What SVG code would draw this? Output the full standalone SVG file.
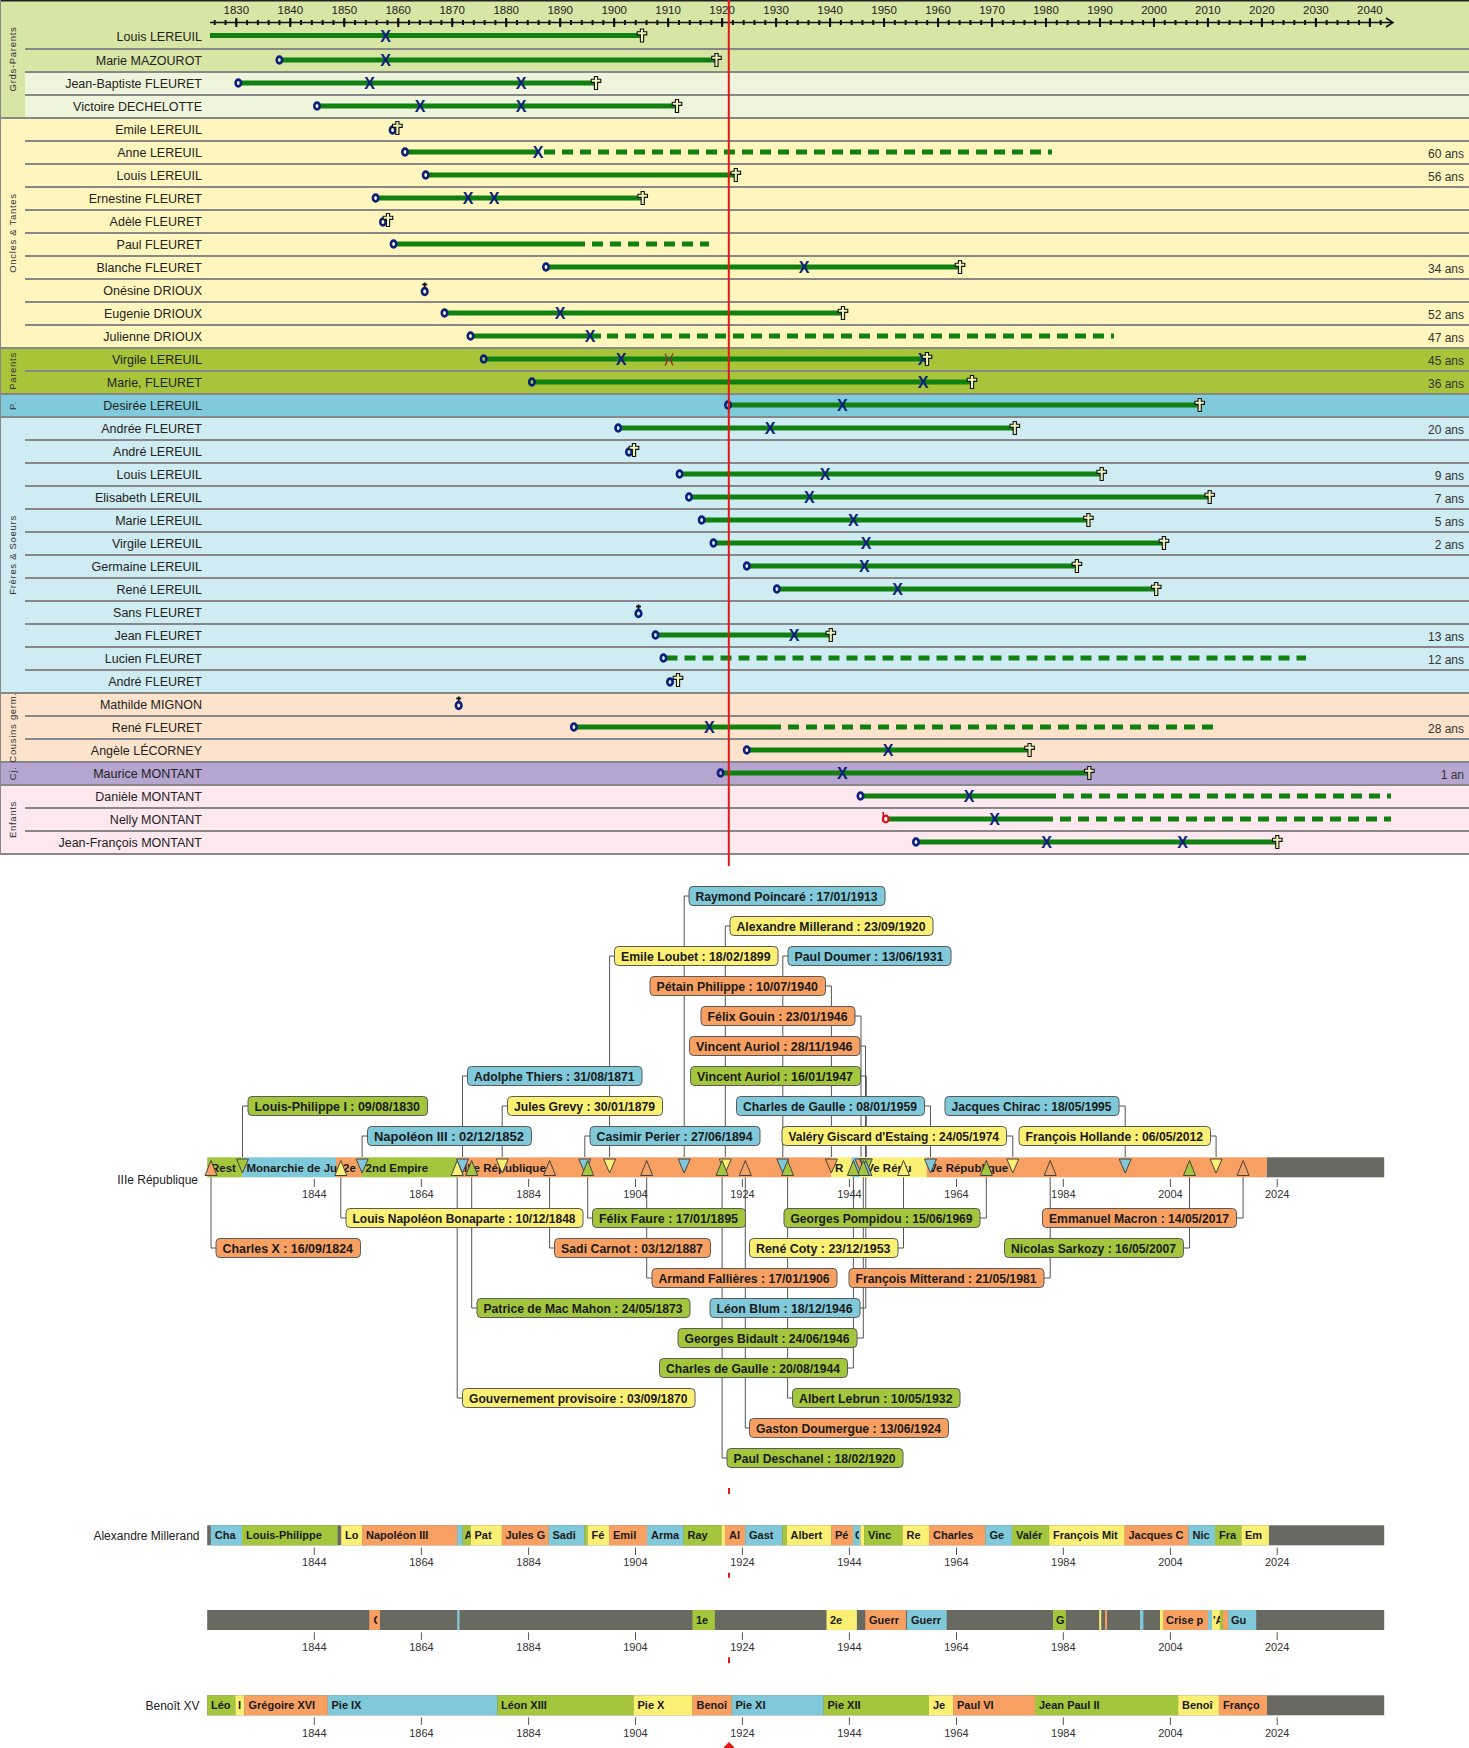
<svg xmlns="http://www.w3.org/2000/svg" width="1469" height="1748" viewBox="0 0 1469 1748">
<style>
.nm{font:12.5px "Liberation Sans",Arial,sans-serif;fill:#222;text-anchor:end}
.ag{font:12px "Liberation Sans",Arial,sans-serif;fill:#333;text-anchor:end}
.cat{font:9.5px "Liberation Sans",Arial,sans-serif;fill:#333;letter-spacing:0.7px;text-anchor:middle}
.yr{font:11.5px "Liberation Sans",Arial,sans-serif;fill:#222;text-anchor:middle}
.x{font:bold 16px "Liberation Sans",Arial,sans-serif;fill:#0c1f7a;text-anchor:middle}
.b{stroke:#108010;stroke-width:5;fill:none}
.d{stroke:#108010;stroke-width:5;fill:none;stroke-dasharray:11 7}
.sep{stroke:#888;stroke-width:2;fill:none}
.cb rect{stroke:#5a5a5a;stroke-width:1}
.cb text{font:bold 12px "Liberation Sans",Arial,sans-serif;fill:#1a1a1a}
.ln{stroke:#555;stroke-width:1;fill:none}
.tk{stroke:#555;stroke-width:1}
.ty{font:11px "Liberation Sans",Arial,sans-serif;fill:#333;text-anchor:middle}
.sl{font:bold 11.5px "Liberation Sans",Arial,sans-serif;fill:#1a1a1a}
.bl{font:bold 11px "Liberation Sans",Arial,sans-serif;fill:#1a1a1a}
.lb{font:12px "Liberation Sans",Arial,sans-serif;fill:#222;text-anchor:end}
.cB{fill:#80c9da}.cY{fill:#fbef74}.cO{fill:#f8a062}.cG{fill:#a3c63c}.cK{fill:#686a62}
.tri{stroke:#444;stroke-width:1}
.red{stroke:#e01818;stroke-width:2}
</style>
<defs>
<polygon id="cr" points="-1.6,-6.5 1.6,-6.5 1.6,-3.8 4.8,-3.8 4.8,-0.6 1.6,-0.6 1.6,6.5 -1.6,6.5 -1.6,-0.6 -4.8,-0.6 -4.8,-3.8 -1.6,-3.8" fill="#eef3b8" stroke="#111" stroke-width="1.1"/>
<ellipse id="bo" cx="0" cy="0" rx="2.7" ry="3.4" fill="none" stroke="#0c1f7a" stroke-width="2.6"/>
<g id="sb"><line x1="0" y1="-7.5" x2="0" y2="-1.5" stroke="#111" stroke-width="1.8"/><line x1="-2.5" y1="-5.5" x2="2.5" y2="-5.5" stroke="#111" stroke-width="1.8"/><ellipse cx="0" cy="1.5" rx="2.8" ry="3.4" fill="none" stroke="#0c1f7a" stroke-width="2.6"/></g>
<g id="nb"><ellipse cx="0" cy="0" rx="2.8" ry="3.4" fill="none" stroke="#d21414" stroke-width="2.2"/><line x1="-2.6" y1="-7" x2="-2.6" y2="3" stroke="#d21414" stroke-width="1.5"/></g>
<path id="mc" d="M-4,-6 Q0,0 -4,6 M4,-6 Q0,0 4,6" fill="none" stroke="#9a2a2a" stroke-width="1.3"/>
<clipPath id="k1"><rect x="462.6" y="1525" width="8" height="21"/></clipPath>
<clipPath id="k2"><rect x="853" y="1525" width="6" height="21"/></clipPath>
<clipPath id="k3"><rect x="369.3" y="1610" width="8" height="20"/></clipPath>
<clipPath id="k4"><rect x="1212" y="1610" width="7.9" height="20"/></clipPath>
</defs>
<rect x="0" y="0" width="1469" height="1748" fill="#fff"/>

<g id="bands">
<rect x="0" y="0" width="1469" height="72" fill="#d7e5a5"/>
<rect x="25" y="72" width="1444" height="46" fill="#eff4dc"/>
<rect x="0" y="72" width="25" height="46" fill="#d7e5a5"/>
<rect x="0" y="118" width="1469" height="230" fill="#fff6bd"/>
<rect x="0" y="348" width="1469" height="46" fill="#a8c53a"/>
<rect x="0" y="394" width="1469" height="23" fill="#80cbdb"/>
<rect x="0" y="417" width="1469" height="276" fill="#cfecf2"/>
<rect x="0" y="693" width="1469" height="69" fill="#fee3cc"/>
<rect x="0" y="762" width="1469" height="23" fill="#b5a5d0"/>
<rect x="0" y="785" width="1469" height="69" fill="#fde8f0"/>
<path class="sep" d="M25,49H1469M25,72H1469M25,95H1469M25,141H1469M25,164H1469M25,187H1469M25,210H1469M25,233H1469M25,256H1469M25,279H1469M25,302H1469M25,325H1469M25,371H1469M25,440H1469M25,463H1469M25,486H1469M25,509H1469M25,532H1469M25,555H1469M25,578H1469M25,601H1469M25,624H1469M25,647H1469M25,670H1469M25,716H1469M25,739H1469M25,808H1469M25,831H1469"/>
<path class="sep" d="M0,118H1469M0,348H1469M0,394H1469M0,417H1469M0,693H1469M0,762H1469M0,785H1469M0,854H1469"/>
<line x1="0" y1="0.75" x2="1469" y2="0.75" stroke="#222" stroke-width="1.5"/>
<line x1="0.5" y1="0" x2="0.5" y2="854" stroke="#888" stroke-width="1"/>
</g>

<g id="categories">
<text class="cat" transform="translate(15.5,59) rotate(-90)">Grds-Parents</text>
<text class="cat" transform="translate(15.5,233) rotate(-90)">Oncles &amp; Tantes</text>
<text class="cat" transform="translate(15.5,371) rotate(-90)">Parents</text>
<text class="cat" transform="translate(15.5,405.5) rotate(-90)">P.</text>
<text class="cat" transform="translate(15.5,555) rotate(-90)">Frères &amp; Soeurs</text>
<text class="cat" transform="translate(15.5,727.5) rotate(-90)">Cousins germ.</text>
<text class="cat" transform="translate(15.5,773.5) rotate(-90)">Cj.</text>
<text class="cat" transform="translate(15.5,819.5) rotate(-90)">Enfants</text>
</g>

<g id="axis">
<line x1="210" y1="22.5" x2="1393" y2="22.5" stroke="#111" stroke-width="1.5"/>
<polyline points="1386,18 1393,22.5 1386,27" fill="none" stroke="#111" stroke-width="1.5"/>
<line x1="213.7" y1="22.5" x2="1384" y2="22.5" stroke="#111" stroke-width="5" stroke-dasharray="2 8.796"/>
<line x1="235.3" y1="22.5" x2="1372" y2="22.5" stroke="#111" stroke-width="9" stroke-dasharray="2 51.98"/>
<text class="yr" x="236.3" y="14">1830</text><text class="yr" x="290.3" y="14">1840</text><text class="yr" x="344.3" y="14">1850</text><text class="yr" x="398.2" y="14">1860</text><text class="yr" x="452.2" y="14">1870</text><text class="yr" x="506.2" y="14">1880</text><text class="yr" x="560.2" y="14">1890</text><text class="yr" x="614.2" y="14">1900</text><text class="yr" x="668.1" y="14">1910</text><text class="yr" x="722.1" y="14">1920</text><text class="yr" x="776.1" y="14">1930</text><text class="yr" x="830.1" y="14">1940</text><text class="yr" x="884.1" y="14">1950</text><text class="yr" x="938" y="14">1960</text><text class="yr" x="992" y="14">1970</text><text class="yr" x="1046" y="14">1980</text><text class="yr" x="1100" y="14">1990</text><text class="yr" x="1154" y="14">2000</text><text class="yr" x="1207.9" y="14">2010</text><text class="yr" x="1261.9" y="14">2020</text><text class="yr" x="1315.9" y="14">2030</text><text class="yr" x="1369.9" y="14">2040</text>
</g>

<g id="row01"><text class="nm" x="202" y="40.5">Louis LEREUIL</text><line class="b" x1="210" y1="35.5" x2="641" y2="35.5"/><text class="x" x="385.6" y="41.5">X</text><use href="#cr" x="642" y="35.5"/></g>
<g id="row02"><text class="nm" x="202" y="65">Marie MAZOUROT</text><line class="b" x1="282.4" y1="60" x2="715.5" y2="60"/><use href="#bo" x="279.4" y="60"/><text class="x" x="385.6" y="66">X</text><use href="#cr" x="716.5" y="60"/></g>
<g id="row03"><text class="nm" x="202" y="88">Jean-Baptiste FLEURET</text><line class="b" x1="241.3" y1="83" x2="595" y2="83"/><use href="#bo" x="238.3" y="83"/><text class="x" x="369.5" y="89">X</text><text class="x" x="521" y="89">X</text><use href="#cr" x="596" y="83"/></g>
<g id="row04"><text class="nm" x="202" y="111">Victoire DECHELOTTE</text><line class="b" x1="320" y1="106" x2="676" y2="106"/><use href="#bo" x="317" y="106"/><text class="x" x="420" y="112">X</text><text class="x" x="521" y="112">X</text><use href="#cr" x="677" y="106"/></g>
<g id="row05"><text class="nm" x="202" y="134">Emile LEREUIL</text><use href="#bo" x="392.6" y="130"/><use href="#cr" x="397.4" y="128"/></g>
<g id="row06"><text class="nm" x="202" y="157">Anne LEREUIL</text><line class="b" x1="408" y1="152" x2="538" y2="152"/><line class="d" x1="544" y1="152" x2="1052" y2="152"/><use href="#bo" x="405" y="152"/><text class="x" x="538" y="158">X</text><text class="ag" x="1464" y="157.5">60 ans</text></g>
<g id="row07"><text class="nm" x="202" y="180">Louis LEREUIL</text><line class="b" x1="428.7" y1="175" x2="735" y2="175"/><use href="#bo" x="425.7" y="175"/><use href="#cr" x="735.8" y="175"/><text class="ag" x="1464" y="180.5">56 ans</text></g>
<g id="row08"><text class="nm" x="202" y="203">Ernestine FLEURET</text><line class="b" x1="378.6" y1="198" x2="642" y2="198"/><use href="#bo" x="375.6" y="198"/><text class="x" x="468" y="204">X</text><text class="x" x="494" y="204">X</text><use href="#cr" x="642.7" y="198"/></g>
<g id="row09"><text class="nm" x="202" y="226">Adèle FLEURET</text><use href="#bo" x="383" y="222"/><use href="#cr" x="388" y="220"/></g>
<g id="row10"><text class="nm" x="202" y="249">Paul FLEURET</text><line class="b" x1="396.6" y1="244" x2="585" y2="244"/><line class="d" x1="592" y1="244" x2="709" y2="244"/><use href="#bo" x="393.6" y="244"/></g>
<g id="row11"><text class="nm" x="202" y="272">Blanche FLEURET</text><line class="b" x1="549" y1="267" x2="959" y2="267"/><use href="#bo" x="546" y="267"/><text class="x" x="804" y="273">X</text><use href="#cr" x="960" y="267"/><text class="ag" x="1464" y="272.5">34 ans</text></g>
<g id="row12"><text class="nm" x="202" y="295">Onésine DRIOUX</text><use href="#sb" x="424.7" y="290"/></g>
<g id="row13"><text class="nm" x="202" y="318">Eugenie DRIOUX</text><line class="b" x1="447.5" y1="313" x2="842" y2="313"/><use href="#bo" x="444.5" y="313"/><text class="x" x="560" y="319">X</text><use href="#cr" x="843" y="313"/><text class="ag" x="1464" y="318.5">52 ans</text></g>
<g id="row14"><text class="nm" x="202" y="341">Julienne DRIOUX</text><line class="b" x1="473.5" y1="336" x2="601" y2="336"/><line class="d" x1="607" y1="336" x2="1114" y2="336"/><use href="#bo" x="470.5" y="336"/><text class="x" x="590" y="342">X</text><text class="ag" x="1464" y="341.5">47 ans</text></g>
<g id="row15"><text class="nm" x="202" y="364">Virgile LEREUIL</text><line class="b" x1="486.7" y1="359" x2="926" y2="359"/><use href="#bo" x="483.7" y="359"/><text class="x" x="621" y="365">X</text><use href="#mc" x="669" y="359.5"/><text class="x" x="923" y="365">X</text><use href="#cr" x="927" y="359"/><text class="ag" x="1464" y="364.5">45 ans</text></g>
<g id="row16"><text class="nm" x="202" y="387">Marie, FLEURET</text><line class="b" x1="534.9" y1="382" x2="971" y2="382"/><use href="#bo" x="531.9" y="382"/><text class="x" x="923" y="388">X</text><use href="#cr" x="972" y="382"/><text class="ag" x="1464" y="387.5">36 ans</text></g>
<g id="row17"><text class="nm" x="202" y="410">Desirée LEREUIL</text><line class="b" x1="731" y1="405" x2="1199" y2="405"/><use href="#bo" x="728" y="405"/><text class="x" x="842.3" y="411">X</text><use href="#cr" x="1199.7" y="405"/></g>
<g id="row18"><text class="nm" x="202" y="433">Andrée FLEURET</text><line class="b" x1="621.2" y1="428" x2="1014" y2="428"/><use href="#bo" x="618.2" y="428"/><text class="x" x="770" y="434">X</text><use href="#cr" x="1014.8" y="428"/><text class="ag" x="1464" y="433.5">20 ans</text></g>
<g id="row19"><text class="nm" x="202" y="456">André LEREUIL</text><use href="#bo" x="629" y="452"/><use href="#cr" x="634" y="450"/></g>
<g id="row20"><text class="nm" x="202" y="479">Louis LEREUIL</text><line class="b" x1="682.6" y1="474" x2="1101" y2="474"/><use href="#bo" x="679.6" y="474"/><text class="x" x="825" y="480">X</text><use href="#cr" x="1101.7" y="474"/><text class="ag" x="1464" y="479.5">9 ans</text></g>
<g id="row21"><text class="nm" x="202" y="502">Elisabeth LEREUIL</text><line class="b" x1="692" y1="497" x2="1209" y2="497"/><use href="#bo" x="689" y="497"/><text class="x" x="809.3" y="503">X</text><use href="#cr" x="1209.7" y="497"/><text class="ag" x="1464" y="502.5">7 ans</text></g>
<g id="row22"><text class="nm" x="202" y="525">Marie LEREUIL</text><line class="b" x1="704.7" y1="520" x2="1088" y2="520"/><use href="#bo" x="701.7" y="520"/><text class="x" x="853.3" y="526">X</text><use href="#cr" x="1088.4" y="520"/><text class="ag" x="1464" y="525.5">5 ans</text></g>
<g id="row23"><text class="nm" x="202" y="548">Virgile LEREUIL</text><line class="b" x1="716.5" y1="543" x2="1163" y2="543"/><use href="#bo" x="713.5" y="543"/><text class="x" x="866.2" y="549">X</text><use href="#cr" x="1163.9" y="543"/><text class="ag" x="1464" y="548.5">2 ans</text></g>
<g id="row24"><text class="nm" x="202" y="571">Germaine LEREUIL</text><line class="b" x1="749.8" y1="566" x2="1076" y2="566"/><use href="#bo" x="746.8" y="566"/><text class="x" x="864.3" y="572">X</text><use href="#cr" x="1076.9" y="566"/></g>
<g id="row25"><text class="nm" x="202" y="594">René LEREUIL</text><line class="b" x1="779.9" y1="589" x2="1156" y2="589"/><use href="#bo" x="776.9" y="589"/><text class="x" x="897.7" y="595">X</text><use href="#cr" x="1156.2" y="589"/></g>
<g id="row26"><text class="nm" x="202" y="617">Sans FLEURET</text><use href="#sb" x="638.5" y="612"/></g>
<g id="row27"><text class="nm" x="202" y="640">Jean FLEURET</text><line class="b" x1="658.5" y1="635" x2="830" y2="635"/><use href="#bo" x="655.5" y="635"/><text class="x" x="794" y="641">X</text><use href="#cr" x="830.8" y="635"/><text class="ag" x="1464" y="640.5">13 ans</text></g>
<g id="row28"><text class="nm" x="202" y="663">Lucien FLEURET</text><line class="d" x1="666.5" y1="658" x2="1306" y2="658"/><use href="#bo" x="663.5" y="658"/><text class="ag" x="1464" y="663.5">12 ans</text></g>
<g id="row29"><text class="nm" x="202" y="686">André FLEURET</text><use href="#bo" x="670" y="682"/><use href="#cr" x="678" y="680"/></g>
<g id="row30"><text class="nm" x="202" y="709">Mathilde MIGNON</text><use href="#sb" x="458.7" y="704"/></g>
<g id="row31"><text class="nm" x="202" y="732">René FLEURET</text><line class="b" x1="576.9" y1="727" x2="781" y2="727"/><line class="d" x1="788" y1="727" x2="1213.5" y2="727"/><use href="#bo" x="573.9" y="727"/><text class="x" x="709.3" y="733">X</text><text class="ag" x="1464" y="732.5">28 ans</text></g>
<g id="row32"><text class="nm" x="202" y="755">Angèle LÉCORNEY</text><line class="b" x1="749.8" y1="750" x2="1029" y2="750"/><use href="#bo" x="746.8" y="750"/><text class="x" x="888.2" y="756">X</text><use href="#cr" x="1029.6" y="750"/></g>
<g id="row33"><text class="nm" x="202" y="778">Maurice MONTANT</text><line class="b" x1="723.6" y1="773" x2="1089" y2="773"/><use href="#bo" x="720.6" y="773"/><text class="x" x="842.3" y="779">X</text><use href="#cr" x="1089.3" y="773"/><text class="ag" x="1464" y="778.5">1 an</text></g>
<g id="row34"><text class="nm" x="202" y="801">Danièle MONTANT</text><line class="b" x1="863.5" y1="796" x2="1056" y2="796"/><line class="d" x1="1063" y1="796" x2="1391" y2="796"/><use href="#bo" x="860.5" y="796"/><text class="x" x="969" y="802">X</text></g>
<g id="row35"><text class="nm" x="202" y="824">Nelly MONTANT</text><line class="b" x1="888.5" y1="819" x2="1053" y2="819"/><line class="d" x1="1060" y1="819" x2="1391" y2="819"/><use href="#nb" x="885.8" y="819"/><text class="x" x="994.7" y="825">X</text></g>
<g id="row36"><text class="nm" x="202" y="847">Jean-François MONTANT</text><line class="b" x1="919" y1="842" x2="1277" y2="842"/><use href="#bo" x="916" y="842"/><text class="x" x="1046.6" y="848">X</text><text class="x" x="1182.6" y="848">X</text><use href="#cr" x="1277.3" y="842"/></g>

<line id="today" class="red" x1="728.8" y1="0" x2="728.8" y2="866"/>

<g id="connectors">
<path class="ln" d="M689,896H684.2V1157M730,926H725.3V1157M614.5,956H609.6V1157M788,956H782.8V1157M825.5,986H831.4V1157M855,1016H861V1157M860,1046H865.5V1157M860.5,1076H866.3V1157M467.5,1076H462.5V1157M248,1106H242.5V1157M507.5,1106H502.2V1157M924.5,1106H930.5V1157M1119,1106H1125.2V1157M367.5,1136H362.1V1157M590,1136H584.8V1157M1006.5,1136H1012.8V1157M1210.5,1136H1216.1V1157"/>
<path class="ln" d="M340.8,1177V1218H346M587.7,1177V1218H592.5M986.3,1177V1218H980M1243.1,1177V1218H1236.5M211,1177V1248H216M549.6,1177V1248H554.5M903.5,1177V1248H898M1189.5,1177V1248H1183.5M646.7,1177V1278H652M1050.2,1177V1278H1044M471.7,1177V1308H477M865.8,1177V1308H860M863.3,1177V1338H857M853.4,1177V1368H847.5M457.2,1177V1398H462.5M787.6,1177V1398H792.5M745.3,1177V1428H749.5M722.1,1177V1458H727"/>
</g>

<g id="strip">
<text class="lb" x="198" y="1183.5">IIIe République</text>
<rect class="cG" x="207.2" y="1157.3" width="35.3" height="20"/>
<rect class="cB" x="242.5" y="1157.3" width="93.5" height="20"/>
<rect class="cO" x="336" y="1157.3" width="26.1" height="20"/>
<rect class="cG" x="362.1" y="1157.3" width="95.1" height="20"/>
<rect class="cO" x="457.2" y="1157.3" width="374.2" height="20"/>
<rect class="cY" x="831.4" y="1157.3" width="20.2" height="20"/>
<rect class="cB" x="851.6" y="1157.3" width="8" height="20"/>
<rect class="cY" x="859.6" y="1157.3" width="67" height="20"/>
<rect class="cO" x="926.6" y="1157.3" width="340.2" height="20"/>
<rect class="cK" x="1266.8" y="1157.3" width="117.4" height="20"/>
<text class="sl" x="211" y="1171.5">Rest</text>
<text class="sl" x="246.4" y="1171.5">Monarchie de Ju</text>
<text class="sl" x="343" y="1171.5">2e</text>
<text class="sl" x="365.6" y="1171.5">2nd Empire</text>
<text class="sl" x="464" y="1171.5">IIIe République</text>
<text class="sl" x="835" y="1171.5">R</text>
<text class="sl" x="863" y="1171.5">IVe Répu</text>
<text class="sl" x="929" y="1171.5">Ve République</text>
<g class="tri">
<polygon class="cB" points="678.2,1159 690.2,1159 684.2,1173"/>
<polygon class="cY" points="719.3,1159 731.3,1159 725.3,1173"/>
<polygon class="cY" points="603.6,1159 615.6,1159 609.6,1173"/>
<polygon class="cB" points="776.8,1159 788.8,1159 782.8,1173"/>
<polygon class="cO" points="825.4,1159 837.4,1159 831.4,1173"/>
<polygon class="cO" points="855,1159 867,1159 861,1173"/>
<polygon class="cO" points="859.5,1159 871.5,1159 865.5,1173"/>
<polygon class="cG" points="860.3,1159 872.3,1159 866.3,1173"/>
<polygon class="cB" points="456.5,1159 468.5,1159 462.5,1173"/>
<polygon class="cG" points="236.5,1159 248.5,1159 242.5,1173"/>
<polygon class="cY" points="496.2,1159 508.2,1159 502.2,1173"/>
<polygon class="cB" points="924.5,1159 936.5,1159 930.5,1173"/>
<polygon class="cB" points="1119.2,1159 1131.2,1159 1125.2,1173"/>
<polygon class="cB" points="356.1,1159 368.1,1159 362.1,1173"/>
<polygon class="cB" points="578.8,1159 590.8,1159 584.8,1173"/>
<polygon class="cY" points="1006.8,1159 1018.8,1159 1012.8,1173"/>
<polygon class="cY" points="1210.1,1159 1222.1,1159 1216.1,1173"/>
<polygon class="cY" points="334.8,1175.5 346.8,1175.5 340.8,1160.5"/>
<polygon class="cG" points="581.7,1175.5 593.7,1175.5 587.7,1160.5"/>
<polygon class="cG" points="980.3,1175.5 992.3,1175.5 986.3,1160.5"/>
<polygon class="cO" points="1237.1,1175.5 1249.1,1175.5 1243.1,1160.5"/>
<polygon class="cO" points="205,1175.5 217,1175.5 211,1160.5"/>
<polygon class="cO" points="543.6,1175.5 555.6,1175.5 549.6,1160.5"/>
<polygon class="cY" points="897.5,1175.5 909.5,1175.5 903.5,1160.5"/>
<polygon class="cG" points="1183.5,1175.5 1195.5,1175.5 1189.5,1160.5"/>
<polygon class="cO" points="640.7,1175.5 652.7,1175.5 646.7,1160.5"/>
<polygon class="cO" points="1044.2,1175.5 1056.2,1175.5 1050.2,1160.5"/>
<polygon class="cG" points="465.7,1175.5 477.7,1175.5 471.7,1160.5"/>
<polygon class="cB" points="859.8,1175.5 871.8,1175.5 865.8,1160.5"/>
<polygon class="cG" points="857.3,1175.5 869.3,1175.5 863.3,1160.5"/>
<polygon class="cG" points="847.4,1175.5 859.4,1175.5 853.4,1160.5"/>
<polygon class="cY" points="451.2,1175.5 463.2,1175.5 457.2,1160.5"/>
<polygon class="cG" points="781.6,1175.5 793.6,1175.5 787.6,1160.5"/>
<polygon class="cO" points="739.3,1175.5 751.3,1175.5 745.3,1160.5"/>
<polygon class="cG" points="716.1,1175.5 728.1,1175.5 722.1,1160.5"/>
</g>
<path class="tk" d="M314.3,1179V1187M421.4,1179V1187M528.6,1179V1187M635.5,1179V1187M742.4,1179V1187M849.4,1179V1187M956.5,1179V1187M1063.3,1179V1187M1170.4,1179V1187M1277.2,1179V1187"/>
<text class="ty" x="314.3" y="1197.5">1844</text><text class="ty" x="421.4" y="1197.5">1864</text><text class="ty" x="528.6" y="1197.5">1884</text><text class="ty" x="635.5" y="1197.5">1904</text><text class="ty" x="742.4" y="1197.5">1924</text><text class="ty" x="849.4" y="1197.5">1944</text><text class="ty" x="956.5" y="1197.5">1964</text><text class="ty" x="1063.3" y="1197.5">1984</text><text class="ty" x="1170.4" y="1197.5">2004</text><text class="ty" x="1277.2" y="1197.5">2024</text>
<line class="red" x1="729" y1="1488" x2="729" y2="1494"/>
</g>

<g id="n01" class="cb"><rect class="cB" x="689" y="886.5" width="196" height="19" rx="4"/><text x="695.5" y="900.5" textLength="182" lengthAdjust="spacingAndGlyphs">Raymond Poincaré : 17/01/1913</text></g>
<g id="n02" class="cb"><rect class="cY" x="730" y="916.5" width="203" height="19" rx="4"/><text x="736.5" y="930.5" textLength="189" lengthAdjust="spacingAndGlyphs">Alexandre Millerand : 23/09/1920</text></g>
<g id="n03" class="cb"><rect class="cY" x="614.5" y="946.5" width="163.5" height="19" rx="4"/><text x="621" y="960.5" textLength="149.5" lengthAdjust="spacingAndGlyphs">Emile Loubet : 18/02/1899</text></g>
<g id="n04" class="cb"><rect class="cB" x="788" y="946.5" width="163" height="19" rx="4"/><text x="794.5" y="960.5" textLength="149" lengthAdjust="spacingAndGlyphs">Paul Doumer : 13/06/1931</text></g>
<g id="n05" class="cb"><rect class="cO" x="650" y="976.5" width="175.5" height="19" rx="4"/><text x="656.5" y="990.5" textLength="161.5" lengthAdjust="spacingAndGlyphs">Pétain Philippe : 10/07/1940</text></g>
<g id="n06" class="cb"><rect class="cO" x="701" y="1006.5" width="154" height="19" rx="4"/><text x="707.5" y="1020.5" textLength="140" lengthAdjust="spacingAndGlyphs">Félix Gouin : 23/01/1946</text></g>
<g id="n07" class="cb"><rect class="cO" x="689.5" y="1036.5" width="170.5" height="19" rx="4"/><text x="696" y="1050.5" textLength="156.5" lengthAdjust="spacingAndGlyphs">Vincent Auriol : 28/11/1946</text></g>
<g id="n08" class="cb"><rect class="cG" x="690.5" y="1066.5" width="170" height="19" rx="4"/><text x="697" y="1080.5" textLength="156" lengthAdjust="spacingAndGlyphs">Vincent Auriol : 16/01/1947</text></g>
<g id="n09" class="cb"><rect class="cB" x="467.5" y="1066.5" width="174.5" height="19" rx="4"/><text x="474" y="1080.5" textLength="160.5" lengthAdjust="spacingAndGlyphs">Adolphe Thiers : 31/08/1871</text></g>
<g id="n10" class="cb"><rect class="cG" x="248" y="1096.5" width="179.5" height="19" rx="4"/><text x="254.5" y="1110.5" textLength="165.5" lengthAdjust="spacingAndGlyphs">Louis-Philippe I : 09/08/1830</text></g>
<g id="n11" class="cb"><rect class="cY" x="507.5" y="1096.5" width="155" height="19" rx="4"/><text x="514" y="1110.5" textLength="141" lengthAdjust="spacingAndGlyphs">Jules Grevy : 30/01/1879</text></g>
<g id="n12" class="cb"><rect class="cB" x="736.5" y="1096.5" width="188" height="19" rx="4"/><text x="743" y="1110.5" textLength="174" lengthAdjust="spacingAndGlyphs">Charles de Gaulle : 08/01/1959</text></g>
<g id="n13" class="cb"><rect class="cB" x="945" y="1096.5" width="174" height="19" rx="4"/><text x="951.5" y="1110.5" textLength="160" lengthAdjust="spacingAndGlyphs">Jacques Chirac : 18/05/1995</text></g>
<g id="n14" class="cb"><rect class="cB" x="367.5" y="1126.5" width="164" height="19" rx="4"/><text x="374" y="1140.5" textLength="150" lengthAdjust="spacingAndGlyphs">Napoléon III : 02/12/1852</text></g>
<g id="n15" class="cb"><rect class="cB" x="590" y="1126.5" width="170" height="19" rx="4"/><text x="596.5" y="1140.5" textLength="156" lengthAdjust="spacingAndGlyphs">Casimir Perier : 27/06/1894</text></g>
<g id="n16" class="cb"><rect class="cY" x="782" y="1126.5" width="224.5" height="19" rx="4"/><text x="788.5" y="1140.5" textLength="210.5" lengthAdjust="spacingAndGlyphs">Valéry Giscard d'Estaing : 24/05/1974</text></g>
<g id="n17" class="cb"><rect class="cY" x="1019" y="1126.5" width="191.5" height="19" rx="4"/><text x="1025.5" y="1140.5" textLength="177.5" lengthAdjust="spacingAndGlyphs">François Hollande : 06/05/2012</text></g>
<g id="n18" class="cb"><rect class="cY" x="346" y="1208.5" width="237" height="19" rx="4"/><text x="352.5" y="1222.5" textLength="223" lengthAdjust="spacingAndGlyphs">Louis Napoléon Bonaparte : 10/12/1848</text></g>
<g id="n19" class="cb"><rect class="cG" x="592.5" y="1208.5" width="153" height="19" rx="4"/><text x="599" y="1222.5" textLength="139" lengthAdjust="spacingAndGlyphs">Félix Faure : 17/01/1895</text></g>
<g id="n20" class="cb"><rect class="cG" x="784" y="1208.5" width="196" height="19" rx="4"/><text x="790.5" y="1222.5" textLength="182" lengthAdjust="spacingAndGlyphs">Georges Pompidou : 15/06/1969</text></g>
<g id="n21" class="cb"><rect class="cO" x="1042.5" y="1208.5" width="194" height="19" rx="4"/><text x="1049" y="1222.5" textLength="180" lengthAdjust="spacingAndGlyphs">Emmanuel Macron : 14/05/2017</text></g>
<g id="n22" class="cb"><rect class="cO" x="216" y="1238.5" width="144.5" height="19" rx="4"/><text x="222.5" y="1252.5" textLength="130.5" lengthAdjust="spacingAndGlyphs">Charles X : 16/09/1824</text></g>
<g id="n23" class="cb"><rect class="cO" x="554.5" y="1238.5" width="156" height="19" rx="4"/><text x="561" y="1252.5" textLength="142" lengthAdjust="spacingAndGlyphs">Sadi Carnot : 03/12/1887</text></g>
<g id="n24" class="cb"><rect class="cY" x="749.5" y="1238.5" width="148.5" height="19" rx="4"/><text x="756" y="1252.5" textLength="134.5" lengthAdjust="spacingAndGlyphs">René Coty : 23/12/1953</text></g>
<g id="n25" class="cb"><rect class="cG" x="1004.5" y="1238.5" width="179" height="19" rx="4"/><text x="1011" y="1252.5" textLength="165" lengthAdjust="spacingAndGlyphs">Nicolas Sarkozy : 16/05/2007</text></g>
<g id="n26" class="cb"><rect class="cO" x="652" y="1268.5" width="185" height="19" rx="4"/><text x="658.5" y="1282.5" textLength="171" lengthAdjust="spacingAndGlyphs">Armand Fallières : 17/01/1906</text></g>
<g id="n27" class="cb"><rect class="cO" x="849" y="1268.5" width="195" height="19" rx="4"/><text x="855.5" y="1282.5" textLength="181" lengthAdjust="spacingAndGlyphs">François Mitterand : 21/05/1981</text></g>
<g id="n28" class="cb"><rect class="cG" x="477" y="1298.5" width="213" height="19" rx="4"/><text x="483.5" y="1312.5" textLength="199" lengthAdjust="spacingAndGlyphs">Patrice de Mac Mahon : 24/05/1873</text></g>
<g id="n29" class="cb"><rect class="cB" x="710" y="1298.5" width="150" height="19" rx="4"/><text x="716.5" y="1312.5" textLength="136" lengthAdjust="spacingAndGlyphs">Léon Blum : 18/12/1946</text></g>
<g id="n30" class="cb"><rect class="cG" x="678" y="1328.5" width="179" height="19" rx="4"/><text x="684.5" y="1342.5" textLength="165" lengthAdjust="spacingAndGlyphs">Georges Bidault : 24/06/1946</text></g>
<g id="n31" class="cb"><rect class="cG" x="659.5" y="1358.5" width="188" height="19" rx="4"/><text x="666" y="1372.5" textLength="174" lengthAdjust="spacingAndGlyphs">Charles de Gaulle : 20/08/1944</text></g>
<g id="n32" class="cb"><rect class="cY" x="462.5" y="1388.5" width="232.5" height="19" rx="4"/><text x="469" y="1402.5" textLength="218.5" lengthAdjust="spacingAndGlyphs">Gouvernement provisoire : 03/09/1870</text></g>
<g id="n33" class="cb"><rect class="cG" x="792.5" y="1388.5" width="167.5" height="19" rx="4"/><text x="799" y="1402.5" textLength="153.5" lengthAdjust="spacingAndGlyphs">Albert Lebrun : 10/05/1932</text></g>
<g id="n34" class="cb"><rect class="cO" x="749.5" y="1418.5" width="199" height="19" rx="4"/><text x="756" y="1432.5" textLength="185" lengthAdjust="spacingAndGlyphs">Gaston Doumergue : 13/06/1924</text></g>
<g id="n35" class="cb"><rect class="cG" x="727" y="1448.5" width="176" height="19" rx="4"/><text x="733.5" y="1462.5" textLength="162" lengthAdjust="spacingAndGlyphs">Paul Deschanel : 18/02/1920</text></g>

<g id="bar-millerand">
<text class="lb" x="199.5" y="1539.5">Alexandre Millerand</text>
<rect class="cK" x="207.2" y="1525.3" width="1177" height="20"/>
<rect class="cB" x="210.8" y="1525.3" width="31.2" height="20"/>
<rect class="cG" x="242" y="1525.3" width="95.6" height="20"/>
<rect class="cY" x="341.2" y="1525.3" width="20.9" height="20"/>
<rect class="cO" x="362.1" y="1525.3" width="95.1" height="20"/>
<rect class="cB" x="457.2" y="1525.3" width="5.4" height="20"/>
<rect class="cG" x="462.6" y="1525.3" width="8" height="20"/>
<rect class="cY" x="470.6" y="1525.3" width="31.3" height="20"/>
<rect class="cO" x="501.9" y="1525.3" width="46.9" height="20"/>
<rect class="cB" x="548.8" y="1525.3" width="35.7" height="20"/>
<rect class="cG" x="584.5" y="1525.3" width="3.1" height="20"/>
<rect class="cY" x="587.6" y="1525.3" width="21.9" height="20"/>
<rect class="cO" x="609.5" y="1525.3" width="37.5" height="20"/>
<rect class="cB" x="647" y="1525.3" width="36.6" height="20"/>
<rect class="cG" x="683.6" y="1525.3" width="37.9" height="20"/>
<rect class="cY" x="721.5" y="1525.3" width="3.5" height="20"/>
<rect class="cO" x="725" y="1525.3" width="20.2" height="20"/>
<rect class="cB" x="745.2" y="1525.3" width="37.2" height="20"/>
<rect class="cG" x="782.4" y="1525.3" width="4.4" height="20"/>
<rect class="cY" x="786.8" y="1525.3" width="44.6" height="20"/>
<rect class="cO" x="831.4" y="1525.3" width="21.6" height="20"/>
<rect class="cB" x="853" y="1525.3" width="7.4" height="20"/>
<rect class="cY" x="860.4" y="1525.3" width="3.9" height="20"/>
<rect class="cG" x="864.3" y="1525.3" width="38.2" height="20"/>
<rect class="cY" x="902.5" y="1525.3" width="26.5" height="20"/>
<rect class="cO" x="929" y="1525.3" width="56.4" height="20"/>
<rect class="cB" x="985.4" y="1525.3" width="26.5" height="20"/>
<rect class="cG" x="1011.9" y="1525.3" width="37.3" height="20"/>
<rect class="cY" x="1049.2" y="1525.3" width="75.5" height="20"/>
<rect class="cO" x="1124.7" y="1525.3" width="63.8" height="20"/>
<rect class="cB" x="1188.5" y="1525.3" width="26.5" height="20"/>
<rect class="cG" x="1215" y="1525.3" width="26.4" height="20"/>
<rect class="cY" x="1241.4" y="1525.3" width="27.5" height="20"/>
<text class="bl" x="214.8" y="1539.3">Cha</text><text class="bl" x="246" y="1539.3">Louis-Philippe</text><text class="bl" x="345" y="1539.3">Lo</text><text class="bl" x="366" y="1539.3">Napoléon III</text><text class="bl" x="464.5" y="1539.3" clip-path="url(#k1)">A</text><text class="bl" x="474.5" y="1539.3">Pat</text><text class="bl" x="505.5" y="1539.3">Jules G</text><text class="bl" x="552.5" y="1539.3">Sadi</text><text class="bl" x="591.5" y="1539.3">Fé</text><text class="bl" x="613" y="1539.3">Emil</text><text class="bl" x="651" y="1539.3">Arma</text><text class="bl" x="687.5" y="1539.3">Ray</text><text class="bl" x="729" y="1539.3">Al</text><text class="bl" x="749" y="1539.3">Gast</text><text class="bl" x="790.5" y="1539.3">Albert</text><text class="bl" x="835" y="1539.3">Pé</text><text class="bl" x="855" y="1539.3" clip-path="url(#k2)">C</text><text class="bl" x="868" y="1539.3">Vinc</text><text class="bl" x="906.5" y="1539.3">Re</text><text class="bl" x="933" y="1539.3">Charles</text><text class="bl" x="989.5" y="1539.3">Ge</text><text class="bl" x="1016" y="1539.3">Valér</text><text class="bl" x="1053" y="1539.3">François Mit</text><text class="bl" x="1128.5" y="1539.3">Jacques C</text><text class="bl" x="1192.5" y="1539.3">Nic</text><text class="bl" x="1219" y="1539.3">Fra</text><text class="bl" x="1245" y="1539.3">Em</text>
<path class="tk" d="M314.3,1547.5V1555M421.4,1547.5V1555M528.6,1547.5V1555M635.5,1547.5V1555M742.4,1547.5V1555M849.4,1547.5V1555M956.5,1547.5V1555M1063.3,1547.5V1555M1170.4,1547.5V1555M1277.2,1547.5V1555"/>
<text class="ty" x="314.3" y="1566">1844</text><text class="ty" x="421.4" y="1566">1864</text><text class="ty" x="528.6" y="1566">1884</text><text class="ty" x="635.5" y="1566">1904</text><text class="ty" x="742.4" y="1566">1924</text><text class="ty" x="849.4" y="1566">1944</text><text class="ty" x="956.5" y="1566">1964</text><text class="ty" x="1063.3" y="1566">1984</text><text class="ty" x="1170.4" y="1566">2004</text><text class="ty" x="1277.2" y="1566">2024</text>
<line class="red" x1="729" y1="1572.7" x2="729" y2="1577.7"/>
</g>

<g id="bar-events">
<rect class="cK" x="207.2" y="1610" width="1177" height="20"/>
<rect class="cO" x="369.3" y="1610" width="10.7" height="20"/>
<rect class="cB" x="457.2" y="1610" width="2.3" height="20"/>
<rect class="cG" x="692.5" y="1610" width="22.3" height="20"/>
<rect class="cY" x="826.5" y="1610" width="30.4" height="20"/>
<rect class="cO" x="865.3" y="1610" width="40.7" height="20"/>
<rect class="cB" x="907" y="1610" width="39.7" height="20"/>
<rect class="cG" x="1053" y="1610" width="12.9" height="20"/>
<rect class="cY" x="1099.2" y="1610" width="2" height="20"/>
<rect class="cO" x="1105.1" y="1610" width="1.9" height="20"/>
<rect class="cB" x="1140" y="1610" width="3.4" height="20"/>
<rect class="cY" x="1160" y="1610" width="3" height="20"/>
<rect class="cO" x="1163" y="1610" width="45" height="20"/>
<rect class="cB" x="1208" y="1610" width="4" height="20"/>
<rect class="cY" x="1212" y="1610" width="7.9" height="20"/>
<rect class="cG" x="1219.9" y="1610" width="2.9" height="20"/>
<rect class="cO" x="1222.8" y="1610" width="5.4" height="20"/>
<rect class="cB" x="1228.2" y="1610" width="28" height="20"/>
<text class="bl" x="373.5" y="1624" clip-path="url(#k3)">G</text><text class="bl" x="696" y="1624">1e</text><text class="bl" x="830" y="1624">2e</text><text class="bl" x="869" y="1624">Guerr</text><text class="bl" x="911" y="1624">Guerr</text><text class="bl" x="1056" y="1624">G</text><text class="bl" x="1166" y="1624">Crise p</text><text class="bl" x="1213" y="1624" clip-path="url(#k4)">'A</text><text class="bl" x="1231" y="1624">Gu</text>
<path class="tk" d="M314.3,1632.3V1640M421.4,1632.3V1640M528.6,1632.3V1640M635.5,1632.3V1640M742.4,1632.3V1640M849.4,1632.3V1640M956.5,1632.3V1640M1063.3,1632.3V1640M1170.4,1632.3V1640M1277.2,1632.3V1640"/>
<text class="ty" x="314.3" y="1651">1844</text><text class="ty" x="421.4" y="1651">1864</text><text class="ty" x="528.6" y="1651">1884</text><text class="ty" x="635.5" y="1651">1904</text><text class="ty" x="742.4" y="1651">1924</text><text class="ty" x="849.4" y="1651">1944</text><text class="ty" x="956.5" y="1651">1964</text><text class="ty" x="1063.3" y="1651">1984</text><text class="ty" x="1170.4" y="1651">2004</text><text class="ty" x="1277.2" y="1651">2024</text>
<line class="red" x1="729" y1="1657.3" x2="729" y2="1663.3"/>
</g>

<g id="bar-popes">
<text class="lb" x="199.5" y="1709.5">Benoît XV</text>
<rect class="cK" x="207.2" y="1695.3" width="1177" height="20"/>
<rect class="cG" x="207.2" y="1695.3" width="28.2" height="20"/>
<rect class="cY" x="235.4" y="1695.3" width="8.9" height="20"/>
<rect class="cO" x="244.3" y="1695.3" width="83.5" height="20"/>
<rect class="cB" x="327.8" y="1695.3" width="169.6" height="20"/>
<rect class="cG" x="497.4" y="1695.3" width="136.2" height="20"/>
<rect class="cY" x="633.6" y="1695.3" width="58.9" height="20"/>
<rect class="cO" x="692.5" y="1695.3" width="39.3" height="20"/>
<rect class="cB" x="731.8" y="1695.3" width="91.8" height="20"/>
<rect class="cG" x="823.6" y="1695.3" width="105.4" height="20"/>
<rect class="cY" x="929" y="1695.3" width="24.1" height="20"/>
<rect class="cO" x="953.1" y="1695.3" width="81.9" height="20"/>
<rect class="cG" x="1035" y="1695.3" width="143.2" height="20"/>
<rect class="cY" x="1178.2" y="1695.3" width="40.7" height="20"/>
<rect class="cO" x="1218.9" y="1695.3" width="48.1" height="20"/>
<text class="bl" x="211" y="1709.3">Léo</text><text class="bl" x="238" y="1709.3">I</text><text class="bl" x="248.5" y="1709.3">Grégoire XVI</text><text class="bl" x="331.5" y="1709.3">Pie IX</text><text class="bl" x="501" y="1709.3">Léon XIII</text><text class="bl" x="637.5" y="1709.3">Pie X</text><text class="bl" x="696.5" y="1709.3">Benoî</text><text class="bl" x="735.5" y="1709.3">Pie XI</text><text class="bl" x="827.5" y="1709.3">Pie XII</text><text class="bl" x="933" y="1709.3">Je</text><text class="bl" x="957" y="1709.3">Paul VI</text><text class="bl" x="1039" y="1709.3">Jean Paul II</text><text class="bl" x="1182" y="1709.3">Benoî</text><text class="bl" x="1223" y="1709.3">Franço</text>
<path class="tk" d="M314.3,1717.3V1725M421.4,1717.3V1725M528.6,1717.3V1725M635.5,1717.3V1725M742.4,1717.3V1725M849.4,1717.3V1725M956.5,1717.3V1725M1063.3,1717.3V1725M1170.4,1717.3V1725M1277.2,1717.3V1725"/>
<text class="ty" x="314.3" y="1736.5">1844</text><text class="ty" x="421.4" y="1736.5">1864</text><text class="ty" x="528.6" y="1736.5">1884</text><text class="ty" x="635.5" y="1736.5">1904</text><text class="ty" x="742.4" y="1736.5">1924</text><text class="ty" x="849.4" y="1736.5">1944</text><text class="ty" x="956.5" y="1736.5">1964</text><text class="ty" x="1063.3" y="1736.5">1984</text><text class="ty" x="1170.4" y="1736.5">2004</text><text class="ty" x="1277.2" y="1736.5">2024</text>
<polygon points="729,1742 734.5,1747.5 729,1753 723.5,1747.5" fill="#e01818"/>
</g>
</svg>
